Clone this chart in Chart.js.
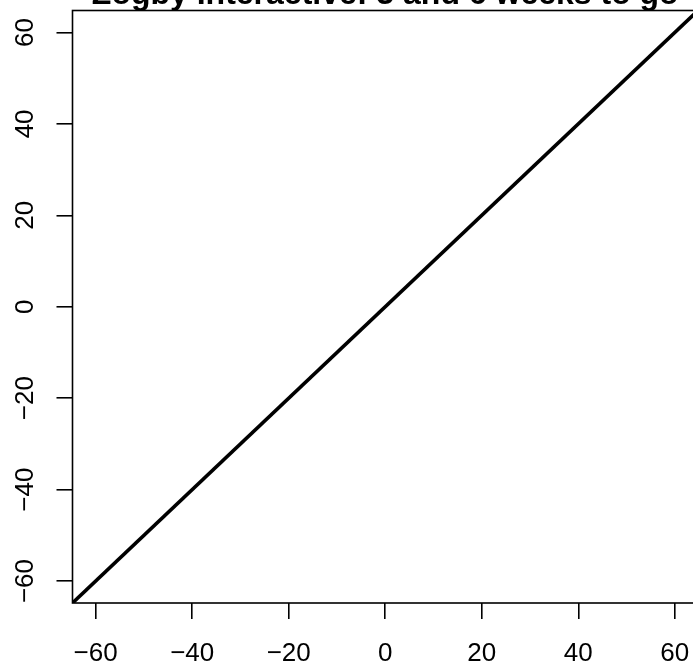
<!DOCTYPE html>
<html>
<head>
<meta charset="utf-8">
<script src="https://cdn.jsdelivr.net/npm/chart.js@4"></script>
<style>
  html, body { margin: 0; padding: 0; background: #fff; overflow: hidden; width: 693px; height: 667px; }
  #wrap { width: 693px; height: 667px; overflow: hidden; position: relative; }
  #c { position: absolute; left: 0; top: 0; }
</style>
</head>
<body>
<div id="wrap"><canvas id="c" width="700" height="667"></canvas></div>
<script>
const chartTitle = 'Zogby Interactive: 3 and 6 weeks to go';
const xTickValues = [-60, -40, -20, 0, 20, 40, 60];
const xTickLabels = ['\u221260', '\u221240', '\u221220', '0', '20', '40', '60'];
const yTickValues = [-60, -40, -20, 0, 20, 40, 60];
const yTickLabels = ['\u221260', '\u221240', '\u221220', '0', '20', '40', '60'];
const xRange = [-64.8, 64.8];
const yRange = [-64.8, 64.8];
// reference line y = x
const lineX = [-80, 80];
const lineY = [-80, 80];

const FONT = "'Liberation Sans', Arial, Helvetica, sans-serif";
Chart.defaults.color = '#000';
Chart.defaults.font.family = FONT;

const boxPlugin = {
  id: 'plotBox',
  afterDraw(chart) {
    const a = chart.chartArea, ctx = chart.ctx;
    ctx.save();
    ctx.strokeStyle = '#000';
    ctx.lineWidth = 1.6;
    ctx.strokeRect(a.left, a.top, a.right - a.left, a.bottom - a.top);
    ctx.restore();
  }
};

new Chart(document.getElementById('c'), {
  type: 'line',
  data: {
    datasets: [{
      data: lineX.map((x, i) => ({ x: x, y: lineY[i] })),
      borderColor: '#000',
      borderWidth: 3.6,
      pointRadius: 0,
      fill: false,
      tension: 0,
      clip: 0
    }]
  },
  options: {
    responsive: false,
    animation: false,
    devicePixelRatio: 1,
    layout: { padding: { left: 0, right: 2, top: 0, bottom: 0 } },
    plugins: {
      legend: { display: false },
      tooltip: { enabled: false },
      title: {
        display: true,
        text: chartTitle,
        fullSize: false,
        align: 'center',
        color: '#000',
        font: { family: FONT, size: 32, weight: 'bold', lineHeight: '10px' },
        padding: { top: -10, bottom: 10.5 }
      }
    },
    scales: {
      x: {
        type: 'linear',
        min: xRange[0], max: xRange[1],
        afterBuildTicks(s) { s.ticks = xTickValues.map(v => ({ value: v })); },
        afterFit(s) { s.height = 64; s.paddingLeft = 0; s.paddingRight = 0; },
        grid: { display: true, drawOnChartArea: false, drawTicks: true, tickLength: 16, color: '#000', lineWidth: 1.6 },
        border: { display: false },
        ticks: {
          font: { family: FONT, size: 26 },
          color: '#000',
          padding: 19,
          maxRotation: 0, minRotation: 0,
          autoSkip: false,
          callback: (v) => { const i = xTickValues.indexOf(v); return i >= 0 ? xTickLabels[i] : ''; }
        }
      },
      y: {
        type: 'linear',
        min: yRange[0], max: yRange[1],
        afterBuildTicks(s) { s.ticks = yTickValues.map(v => ({ value: v })); },
        afterFit(s) { s.width = 72.5; s.paddingTop = 0; s.paddingBottom = 0; },
        grid: { display: true, drawOnChartArea: false, drawTicks: true, tickLength: 16, color: '#000', lineWidth: 1.6 },
        border: { display: false },
        ticks: {
          font: { family: FONT, size: 26 },
          color: '#000',
          padding: 9,
          crossAlign: 'center',
          minRotation: 90, maxRotation: 90,
          autoSkip: false,
          callback: (v) => { const i = yTickValues.indexOf(v); return i >= 0 ? yTickLabels[i] : ''; }
        }
      }
    }
  },
  plugins: [boxPlugin]
});
</script>
</body>
</html>
